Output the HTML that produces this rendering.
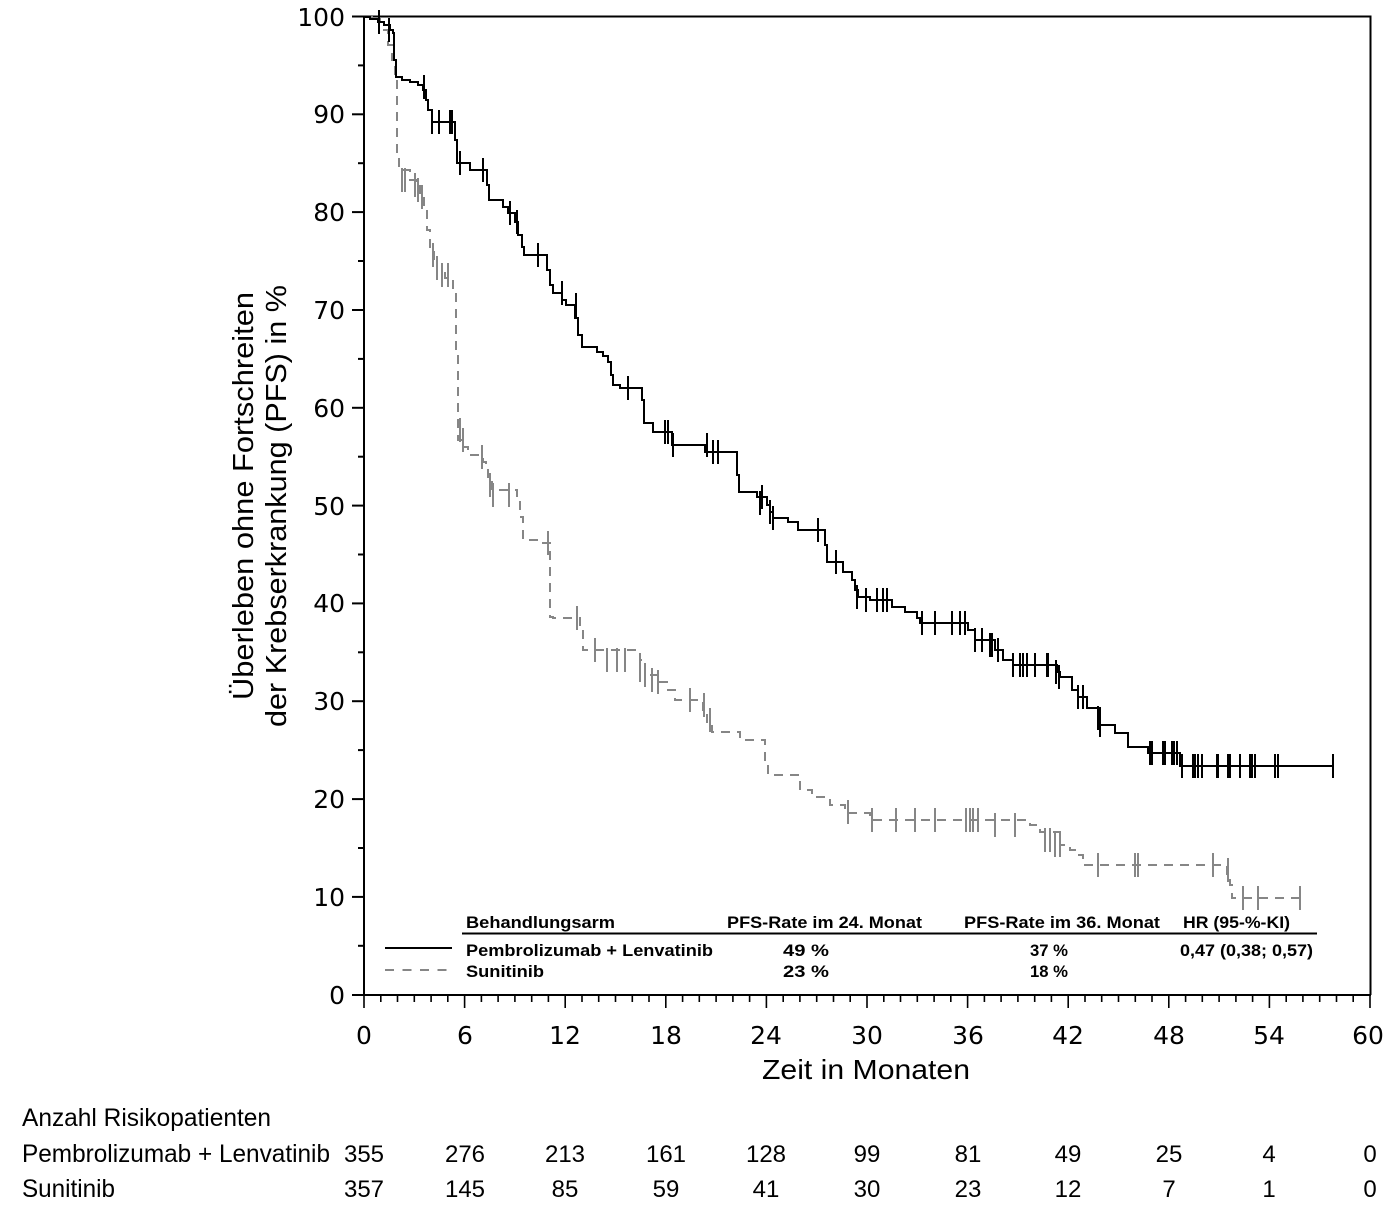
<!DOCTYPE html>
<html><head><meta charset="utf-8"><style>
html,body{margin:0;padding:0;background:#fff;}
svg{display:block;}
</style></head><body>
<svg width="1386" height="1230" viewBox="0 0 1386 1230" xmlns="http://www.w3.org/2000/svg">
<rect width="1386" height="1230" fill="#fff"/>
<path d="M364,16.5 H1370.5 V995 M364,16 V995 H1371" fill="none" stroke="#000" stroke-width="2"/>
<g stroke="#000" stroke-width="2">
<line x1="352" y1="16.5" x2="364" y2="16.5"/><line x1="352" y1="114.3" x2="364" y2="114.3"/><line x1="352" y1="212.1" x2="364" y2="212.1"/><line x1="352" y1="310" x2="364" y2="310"/><line x1="352" y1="407.8" x2="364" y2="407.8"/><line x1="352" y1="505.6" x2="364" y2="505.6"/><line x1="352" y1="603.4" x2="364" y2="603.4"/><line x1="352" y1="701.2" x2="364" y2="701.2"/><line x1="352" y1="799.1" x2="364" y2="799.1"/><line x1="352" y1="896.9" x2="364" y2="896.9"/><line x1="352" y1="995" x2="364" y2="995"/>
<line x1="358" y1="65.4" x2="364" y2="65.4"/><line x1="358" y1="163.2" x2="364" y2="163.2"/><line x1="358" y1="261" x2="364" y2="261"/><line x1="358" y1="358.9" x2="364" y2="358.9"/><line x1="358" y1="456.7" x2="364" y2="456.7"/><line x1="358" y1="554.5" x2="364" y2="554.5"/><line x1="358" y1="652.3" x2="364" y2="652.3"/><line x1="358" y1="750.1" x2="364" y2="750.1"/><line x1="358" y1="848" x2="364" y2="848"/><line x1="358" y1="945.8" x2="364" y2="945.8"/>
</g>
<g font-family="DejaVu Sans, sans-serif" font-size="25" fill="#000" text-anchor="end">
<text x="345" y="26">100</text><text x="345" y="123">90</text><text x="345" y="221">80</text><text x="345" y="319">70</text><text x="345" y="417">60</text><text x="345" y="515">50</text><text x="345" y="612">40</text><text x="345" y="710">30</text><text x="345" y="808">20</text><text x="345" y="906">10</text><text x="345" y="1004">0</text>
</g>
<g font-family="DejaVu Sans, sans-serif" font-size="25" fill="#000" text-anchor="middle">
<text x="364" y="1044">0</text><text x="465" y="1044">6</text><text x="565" y="1044">12</text><text x="666" y="1044">18</text><text x="766" y="1044">24</text><text x="867" y="1044">30</text><text x="968" y="1044">36</text><text x="1068" y="1044">42</text><text x="1169" y="1044">48</text><text x="1269" y="1044">54</text><text x="1368" y="1044">60</text>
</g>
<text x="762" y="1079" font-family="Liberation Sans, Arial, sans-serif" font-size="28" textLength="208" lengthAdjust="spacingAndGlyphs">Zeit in Monaten</text>
<g font-family="Liberation Sans, Arial, sans-serif" font-size="29" fill="#000">
<text transform="translate(253,700) rotate(-90)" textLength="408" lengthAdjust="spacingAndGlyphs">Überleben ohne Fortschreiten</text>
<text transform="translate(286,727) rotate(-90)" textLength="442" lengthAdjust="spacingAndGlyphs">der Krebserkrankung (PFS) in %</text>
</g>
<path fill="none" stroke="#868686" stroke-width="2" stroke-dasharray="9 7" d="M364,17 H372 V19 H380 V22 H384 V30 H388 V45 H392 V60 H395 V75 H397 V83 V157 H399 V170 H410 V180 H416 V185 H420 V197 H424 V210 H427 V230 H430 V250 H434 V265 H437 V273 H445 V278 H453 V290 H456 V353 H458 V440 H463 V447 H468 V455 H483 V462 H486 V470 H488 V478 H492 V490 H517 V500 H520 V517 H523 V540 H542 V543 H550 V560 V617 H553 V618 H580 V628 H583 V650 H640 V660 H645 V675 H660 V682 H668 V690 H675 V700 H703 V712 H707 V725 H712 V732 H740 V740 H765 V760 H768 V775 H800 V790 H812 V797 H830 V805 H845 V813 H870 V820 H1030 V825 H1040 V832 H1060 V845 H1070 V850 H1078 V855 H1083 V865 H1227 V875 H1230 V885 H1232 V898 H1300"/>
<path fill="none" stroke="#000" stroke-width="2" d="M364,17 H370 V19 H378 V22 H384 V25 H390 V30 H393 V33 H394 V60 H396 V77 H402 V80 H410 V82 H418 V85 H423 V90 H426 V100 H428 V110 H432 V122 H455 V140 H457 V163 H470 V170 H487 V185 H489 V200 H503 V207 H508 V213 H515 V222 H518 V235 H522 V247 H524 V255 H547 V270 H550 V285 H553 V293 H562 V300 H566 V305 H575 V318 H578 V335 H582 V347 H597 V352 H603 V356 H608 V362 H611 V375 H613 V385 H620 V388 H642 V400 H644 V423 H653 V432 H672 V445 H705 V452 H737 V475 H739 V492 H757 V497 H767 V505 H770 V512 H773 V518 H788 V522 H798 V530 H825 V545 H827 V562 H843 V572 H852 V580 H855 V590 H858 V597 H870 V600 H892 V607 H905 V612 H917 V618 H920 V623 H968 V630 H975 V640 H995 V650 H1003 V660 H1013 V665 H1057 V672 H1060 V677 H1072 V690 H1078 V697 H1087 V708 H1100 V725 H1115 V733 H1128 V747 H1148 V753 H1180 V766 H1333"/>
<g font-family="Liberation Sans, Arial, sans-serif" font-size="17" font-weight="bold" fill="#000">
<text x="466" y="928" textLength="149" lengthAdjust="spacingAndGlyphs">Behandlungsarm</text>
<text x="727" y="928" textLength="195" lengthAdjust="spacingAndGlyphs">PFS-Rate im 24. Monat</text>
<text x="964" y="928" textLength="196" lengthAdjust="spacingAndGlyphs">PFS-Rate im 36. Monat</text>
<text x="1183" y="928" textLength="107" lengthAdjust="spacingAndGlyphs">HR (95-%-KI)</text>
<text x="466" y="956" textLength="247" lengthAdjust="spacingAndGlyphs">Pembrolizumab + Lenvatinib</text>
<text x="783" y="956" textLength="46" lengthAdjust="spacingAndGlyphs">49 %</text>
<text x="1030" y="956" textLength="38" lengthAdjust="spacingAndGlyphs">37 %</text>
<text x="1180" y="956" textLength="133" lengthAdjust="spacingAndGlyphs">0,47 (0,38; 0,57)</text>
<text x="466" y="977" textLength="78" lengthAdjust="spacingAndGlyphs">Sunitinib</text>
<text x="783" y="977" textLength="46" lengthAdjust="spacingAndGlyphs">23 %</text>
<text x="1030" y="977" textLength="38" lengthAdjust="spacingAndGlyphs">18 %</text>
</g>
<line x1="462" y1="933.5" x2="1317" y2="933.5" stroke="#000" stroke-width="2"/>
<line x1="385" y1="948" x2="452" y2="948" stroke="#000" stroke-width="2"/>
<line x1="385" y1="970" x2="452" y2="970" stroke="#868686" stroke-width="2" stroke-dasharray="9 8.5"/>
<g font-family="Liberation Sans, Arial, sans-serif" font-size="25" fill="#000">
<text x="22" y="1126" textLength="249" lengthAdjust="spacingAndGlyphs">Anzahl Risikopatienten</text>
<text x="22" y="1162" textLength="308" lengthAdjust="spacingAndGlyphs">Pembrolizumab + Lenvatinib</text>
<text x="22" y="1197" textLength="93" lengthAdjust="spacingAndGlyphs">Sunitinib</text>
</g>
<g font-family="Liberation Sans, Arial, sans-serif" font-size="24" fill="#000" text-anchor="middle">
<text x="364" y="1162">355</text><text x="465" y="1162">276</text><text x="565" y="1162">213</text><text x="666" y="1162">161</text><text x="766" y="1162">128</text><text x="867" y="1162">99</text><text x="968" y="1162">81</text><text x="1068" y="1162">49</text><text x="1169" y="1162">25</text><text x="1269" y="1162">4</text><text x="1370" y="1162">0</text>
<text x="364" y="1197">357</text><text x="465" y="1197">145</text><text x="565" y="1197">85</text><text x="666" y="1197">59</text><text x="766" y="1197">41</text><text x="867" y="1197">30</text><text x="968" y="1197">23</text><text x="1068" y="1197">12</text><text x="1169" y="1197">7</text><text x="1269" y="1197">1</text><text x="1370" y="1197">0</text>
</g>
<path stroke="#000" stroke-width="1.6" fill="none" d="M364,995V1008 M380.8,995V1002 M397.5,995V1002 M414.3,995V1002 M431.1,995V1002 M447.8,995V1002 M464.6,995V1008 M481.4,995V1002 M498.1,995V1002 M514.9,995V1002 M531.7,995V1002 M548.4,995V1002 M565.2,995V1008 M582,995V1002 M598.7,995V1002 M615.5,995V1002 M632.3,995V1002 M649,995V1002 M665.8,995V1008 M682.6,995V1002 M699.3,995V1002 M716.1,995V1002 M732.9,995V1002 M749.6,995V1002 M766.4,995V1008 M783.2,995V1002 M799.9,995V1002 M816.7,995V1002 M833.5,995V1002 M850.2,995V1002 M867,995V1008 M883.8,995V1002 M900.5,995V1002 M917.3,995V1002 M934.1,995V1002 M950.8,995V1002 M967.6,995V1008 M984.4,995V1002 M1001.1,995V1002 M1017.9,995V1002 M1034.7,995V1002 M1051.4,995V1002 M1068.2,995V1008 M1085,995V1002 M1101.7,995V1002 M1118.5,995V1002 M1135.3,995V1002 M1152,995V1002 M1168.8,995V1008 M1185.6,995V1002 M1202.3,995V1002 M1219.1,995V1002 M1235.9,995V1002 M1252.6,995V1002 M1269.4,995V1008 M1286.2,995V1002 M1302.9,995V1002 M1319.7,995V1002 M1336.5,995V1002 M1353.2,995V1002 M1370,995V1008"/>
<path stroke="#000" stroke-width="2" fill="none" d="M379,10v24 M389,18v24 M424,75v24 M432,110v24 M439,110v24 M450,110v24 M452,110v24 M460,151v24 M483,158v24 M510,201v24 M517,210v24 M538,243v24 M562,281v24 M576,293v24 M628,376v24 M665,420v24 M668,420v24 M673,433v24 M707,433v24 M713,440v24 M718,440v24 M760,491v24 M770,500v24 M773,506v24 M762,485v24 M818,518v24 M836,550v24 M857,585v24 M866,588v24 M877,588v24 M883,588v24 M887,588v24 M922,611v24 M935,611v24 M952,611v24 M960,611v24 M965,611v24 M975,628v24 M982,628v24 M990,633v24 M992,633v24 M998,638v24 M1013,653v24 M1020,653v24 M1023,653v24 M1027,653v24 M1035,653v24 M1047,653v24 M1048,653v24 M1056,660v24 M1059,665v24 M1078,685v24 M1083,685v24 M1098,706v24 M1100,713v24 M1150,741v24 M1152,741v24 M1163,741v24 M1165,741v24 M1172,741v24 M1174,741v24 M1177,741v24 M1182,754v24 M1193,754v24 M1195,754v24 M1198,754v24 M1202,754v24 M1217,754v24 M1218,754v24 M1228,754v24 M1230,754v24 M1240,754v24 M1250,754v24 M1252,754v24 M1255,754v24 M1275,754v24 M1278,754v24 M1333,754v24"/>
<path stroke="#868686" stroke-width="2" fill="none" d="M402,168v24 M405,168v24 M415,173v24 M418,178v24 M422,185v24 M433,243v24 M437,256v24 M442,263v24 M448,263v24 M460,418v24 M463,428v24 M482,445v24 M490,473v24 M493,483v24 M509,483v24 M548,531v24 M577,606v24 M595,638v24 M607,648v24 M617,648v24 M625,648v24 M640,658v24 M645,663v24 M652,668v24 M658,670v24 M690,688v24 M704,693v24 M710,708v24 M848,800v24 M872,808v24 M896,808v24 M915,808v24 M935,808v24 M966,808v24 M970,808v24 M973,808v24 M978,808v24 M995,813v24 M1015,813v24 M1045,828v24 M1050,828v24 M1055,833v24 M1060,833v24 M1098,853v24 M1135,853v24 M1138,853v24 M1213,853v24 M1228,858v24 M1243,886v24 M1258,886v24 M1300,886v24"/>
</svg>
</body></html>
